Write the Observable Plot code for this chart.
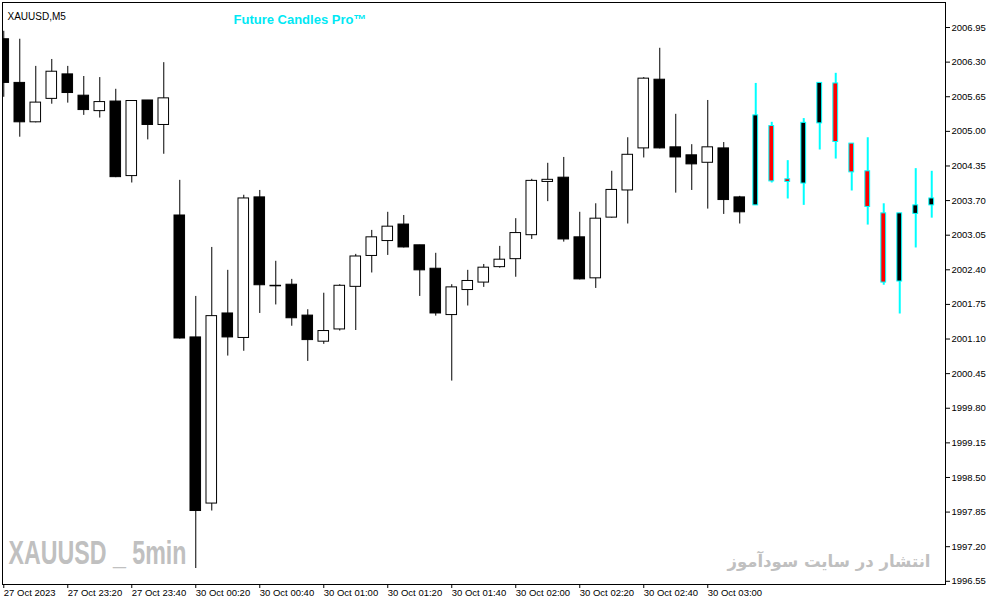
<!DOCTYPE html>
<html lang="en">
<head>
<meta charset="utf-8">
<title>XAUUSD M5 with Future Candles Pro</title>
<script src="https://cdn.jsdelivr.net/npm/d3@7"></script>
<script src="https://cdn.jsdelivr.net/npm/@observablehq/plot@0.6"></script>
<style>
  body { margin: 0; background: #fff; }
  #chart svg { display: block; }
</style>
</head>
<body>
<div id="chart"></div>
<script>
  // real bars, 5 minute, index 0..46
  const histOpen  = [2006.73, 2005.91, 2005.17, 2005.61, 2006.07, 2005.67, 2005.38, 2005.56, 2004.16, 2005.58, 2005.12, 2003.42, 2001.13, 1998.01, 2001.58, 2001.12, 2003.76, 2002.10, 2002.12, 2001.54, 2001.05, 2001.28, 2002.08, 2002.66, 2002.94, 2003.25, 2002.86, 2002.42, 2001.55, 2002.02, 2002.16, 2002.45, 2002.60, 2003.05, 2004.05, 2004.13, 2003.01, 2002.24, 2003.38, 2003.89, 2004.68, 2005.97, 2004.70, 2004.55, 2004.41, 2004.68, 2003.76];
  const histHigh  = [2006.88, 2006.73, 2006.22, 2006.35, 2006.22, 2006.03, 2006.01, 2005.79, 2005.57, 2005.58, 2006.29, 2004.08, 2001.90, 2002.82, 2002.39, 2003.80, 2003.89, 2002.56, 2002.22, 2001.65, 2001.96, 2002.12, 2002.69, 2003.14, 2003.48, 2003.42, 2002.86, 2002.71, 2002.12, 2002.39, 2002.50, 2002.84, 2003.36, 2004.10, 2004.40, 2004.51, 2003.48, 2003.64, 2004.25, 2004.88, 2006.01, 2006.56, 2005.32, 2004.75, 2005.58, 2004.79, 2003.78];
  const histLow   = [2005.64, 2004.89, 2005.16, 2005.51, 2005.53, 2005.30, 2005.25, 2004.13, 2004.03, 2004.84, 2004.57, 2001.10, 1996.79, 1997.87, 2000.78, 2000.87, 2001.58, 2001.74, 2001.34, 2000.68, 2001.00, 2001.25, 2001.26, 2002.34, 2002.67, 2002.81, 2001.90, 2001.53, 2000.31, 2001.72, 2002.07, 2002.43, 2002.26, 2002.97, 2003.68, 2002.92, 2002.21, 2002.05, 2003.37, 2003.26, 2004.50, 2004.67, 2003.84, 2003.89, 2003.54, 2003.44, 2003.26];
  const histClose = [2005.91, 2005.17, 2005.54, 2006.12, 2005.72, 2005.40, 2005.55, 2004.14, 2005.57, 2005.12, 2005.62, 2001.11, 1997.87, 2001.53, 2001.13, 2003.74, 2002.11, 2002.09, 2001.49, 2001.08, 2001.25, 2002.10, 2002.65, 2003.01, 2003.21, 2002.82, 2002.39, 2001.58, 2002.07, 2002.19, 2002.44, 2002.59, 2003.09, 2004.07, 2004.09, 2002.97, 2002.22, 2003.36, 2003.90, 2004.56, 2005.99, 2004.68, 2004.51, 2004.38, 2004.70, 2003.71, 2003.48];

  // projected bars from the indicator
  const futOpen  = [2003.61, 2005.10, 2004.10, 2004.02, 2005.15, 2005.90, 2004.77, 2004.25, 2003.46, 2002.18, 2003.45, 2003.61];
  const futHigh  = [2005.90, 2005.17, 2004.45, 2005.24, 2005.91, 2006.09, 2004.77, 2004.88, 2003.64, 2003.46, 2004.30, 2004.25];
  const futLow   = [2003.61, 2004.03, 2003.73, 2003.61, 2004.65, 2004.48, 2003.88, 2003.24, 2002.11, 2001.57, 2002.81, 2003.37];
  const futClose = [2005.30, 2004.06, 2004.05, 2005.16, 2005.91, 2004.80, 2004.23, 2003.58, 2002.16, 2003.46, 2003.61, 2003.74];

  const xTickIndex = [0, 4, 8, 12, 16, 20, 24, 28, 32, 36, 40, 44];
  const xTickLabels = ["27 Oct 2023", "27 Oct 23:20", "27 Oct 23:40", "30 Oct 00:20", "30 Oct 00:40", "30 Oct 01:00",
                       "30 Oct 01:20", "30 Oct 01:40", "30 Oct 02:00", "30 Oct 02:20", "30 Oct 02:40", "30 Oct 03:00"];
  const yTicks = [1996.55, 1997.20, 1997.85, 1998.50, 1999.15, 1999.80, 2000.45, 2001.10, 2001.75,
                  2002.40, 2003.05, 2003.70, 2004.35, 2005.00, 2005.65, 2006.30, 2006.95];

  const hist = histOpen.map((o, i) => ({i, open: o, high: histHigh[i], low: histLow[i], close: histClose[i]}));
  const fut = futOpen.map((o, k) => ({i: histOpen.length + k, open: o, high: futHigh[k], low: futLow[k], close: futClose[k]}));

  const hw = 0.33;  // half body width of real bars
  const fw = 0.15;  // half body width of projected bars

  const chart = Plot.plot({
    width: 991,
    height: 605,
    marginTop: 2,
    marginLeft: 2,
    marginRight: 46,
    marginBottom: 21,
    style: {fontFamily: "'Liberation Sans', Arial, sans-serif", fontSize: "9.5px", color: "#000", background: "#fff"},
    x: {type: "linear", domain: [-0.08, 58.86]},
    y: {domain: [1996.49, 2007.42]},
    marks: [
      Plot.ruleX(hist, {x: "i", y1: "low", y2: "high", stroke: "#000", strokeWidth: 1, clip: true}),
      Plot.rect(hist, {
        x1: d => d.i - hw, x2: d => d.i + hw, y1: "open", y2: "close",
        fill: d => d.close >= d.open ? "#fff" : "#000", stroke: "#000", strokeWidth: 1, clip: true
      }),
      Plot.ruleX(fut, {x: "i", y1: "low", y2: "high", stroke: "#00ffff", strokeWidth: 2}),
      Plot.rect(fut, {
        x1: d => d.i - fw, x2: d => d.i + fw, y1: "open", y2: "close",
        fill: d => d.close >= d.open ? "#000" : "#ff0000", stroke: "#00ffff", strokeWidth: 1
      }),
      Plot.frame({stroke: "#000", strokeWidth: 1}),
      Plot.axisY({anchor: "right", ticks: yTicks, tickSize: 4, tickPadding: 2, tickFormat: d => d.toFixed(2), label: null}),
      Plot.axisX({anchor: "bottom", ticks: xTickIndex, tickSize: 4, tickPadding: 1, textAnchor: "start",
                  tickFormat: d => xTickLabels[xTickIndex.indexOf(d)], label: null}),
      Plot.text(["XAUUSD,M5"], {frameAnchor: "top-left", dx: 5, dy: 10, textAnchor: "start", fontSize: 10, fill: "#000"}),
      Plot.text(["Future Candles Pro™"], {frameAnchor: "top-left", dx: 231, dy: 12, textAnchor: "start",
                                          fontSize: 13, fontWeight: "bold", fill: "#00e8f4"}),
      Plot.text(["XAUUSD _ 5min"], {frameAnchor: "bottom-left", dx: 6, dy: -21, textAnchor: "start",
                                    fontSize: 33, fontWeight: "bold", fill: "#c0c0c0"}),
      Plot.text(["انتشار در سایت سودآموز"], {frameAnchor: "bottom-right", dx: -15, dy: -18, textAnchor: "end",
                                            fontSize: 16.5, fontWeight: "bold", fontFamily: "'DejaVu Sans', sans-serif", fill: "#c0c0c0"})
    ]
  });

  // squeeze the watermark to the narrow width of the original
  chart.querySelectorAll("text").forEach(t => {
    if (t.textContent === "XAUUSD _ 5min") {
      t.setAttribute("textLength", 178);
      t.setAttribute("lengthAdjust", "spacingAndGlyphs");
    }
  });

  document.getElementById("chart").appendChild(chart);
</script>
</body>
</html>
